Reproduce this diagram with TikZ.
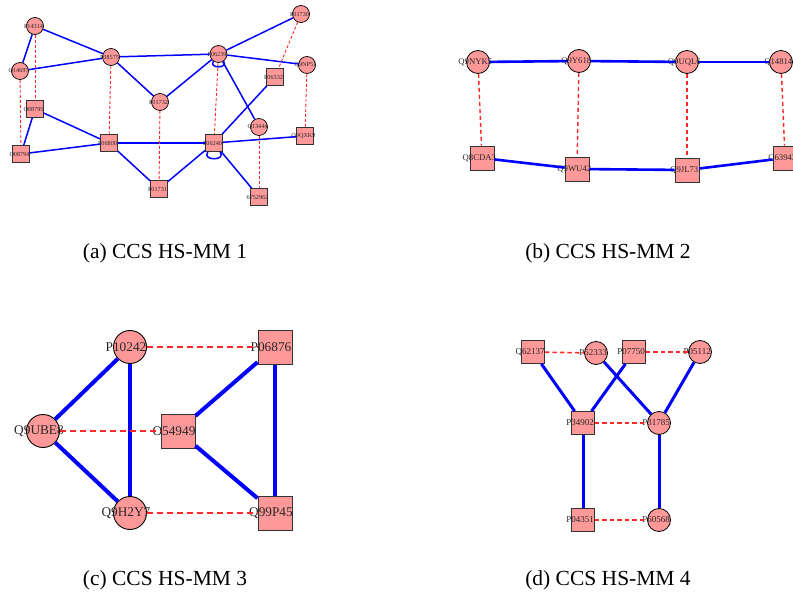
\documentclass[tikz,border=0pt]{standalone}
\usepackage{fontspec}
\setmainfont{Liberation Serif}
\begin{document}
\begin{tikzpicture}[x=1pt,y=-1pt]
\definecolor{nodefill}{RGB}{255,153,153}
\definecolor{edgered}{RGB}{255,40,40}
\useasboundingbox (0,0) rectangle (793,596);
\tikzset{
  lbl/.style={text=black!85, inner sep=0},
  % panel (a)
  acirc/.style={circle, draw=black, fill=nodefill, minimum size=17, inner sep=0, line width=0.7,
    label={[lbl, font=\fontsize{6.2}{7}\selectfont, xshift=-1.5]center:#1}},
  asq/.style={rectangle, draw=black!80, fill=nodefill, minimum size=17, inner sep=0, line width=0.8,
    label={[lbl, font=\fontsize{6.2}{7}\selectfont, xshift=-1.5]center:#1}},
  ablue/.style={draw=blue, line width=1.5},
  ared/.style={draw=edgered, line width=0.9, dash pattern=on 3 off 2},
  aloop/.style={out=-125, in=-55, looseness=2.3},
  % panel (b)
  bcirc/.style={circle, draw=black, fill=nodefill, minimum size=23, inner sep=0, line width=0.8,
    label={[lbl, font=\fontsize{8.7}{10}\selectfont, xshift=-2.7]center:#1}},
  bsq/.style={rectangle, draw=black!80, fill=nodefill, minimum size=24, inner sep=0, line width=0.9,
    label={[lbl, font=\fontsize{8.7}{10}\selectfont, xshift=-2.7]center:#1}},
  bblue/.style={draw=blue, line width=2.6},
  bred/.style={draw=edgered, line width=1.4, dash pattern=on 4 off 3},
  % panel (c)
  ccirc/.style={circle, draw=black, fill=nodefill, minimum size=33, inner sep=0, line width=0.9,
    label={[lbl, font=\fontsize{13.3}{15}\selectfont, xshift=-4]center:#1}},
  csq/.style={rectangle, draw=black!80, fill=nodefill, minimum size=34, inner sep=0, line width=1,
    label={[lbl, font=\fontsize{13.3}{15}\selectfont, xshift=-4]center:#1}},
  cblue/.style={draw=blue, line width=4},
  cred/.style={draw=edgered, line width=2.2, dash pattern=on 6 off 4},
  % panel (d)
  dcirc/.style={circle, draw=black, fill=nodefill, minimum size=23, inner sep=0, line width=0.8,
    label={[lbl, font=\fontsize{9}{10}\selectfont, xshift=-2.8]center:#1}},
  dsq/.style={rectangle, draw=black!80, fill=nodefill, minimum size=23, inner sep=0, line width=0.9,
    label={[lbl, font=\fontsize{9}{10}\selectfont, xshift=-2.8]center:#1}},
  dblue/.style={draw=blue, line width=3},
  dred/.style={draw=edgered, line width=1.6, dash pattern=on 4.5 off 3},
  caption/.style={font=\fontsize{21.5}{24}\selectfont, text=black, inner sep=0},
}

% ---------- (a) ----------
\node[acirc=P14314] (aP14314) at (35,26) {};
\node[acirc=Q14697] (aQ14697) at (20,71) {};
\node[acirc=P08575] (aP08575) at (111,57) {};
\node[acirc=P01732] (aP01732) at (160,102) {};
\node[acirc=P06239] (aP06239) at (218.5,54) {};
\node[acirc=P01730] (aP01730) at (301,14) {};
\node[acirc=Q9NP51] (aQ9NP51) at (307,65) {};
\node[acirc=Q13444] (aQ13444) at (259,127) {};
\node[asq=O08795] (aO08795) at (35,109) {};
\node[asq=O08794] (aO08794) at (21,154) {};
\node[asq=P06800] (aP06800) at (109,143) {};
\node[asq=P01731] (aP01731) at (159,189) {};
\node[asq=P06240] (aP06240) at (214,143) {};
\node[asq=P06332] (aP06332) at (275,77) {};
\node[asq=Q9QXK9] (aQ9QXK9) at (305,136) {};
\node[asq=6752962] (a6752962) at (259,197) {};

\draw[ablue] (aP14314) -- (aQ14697);
\draw[ablue] (aP14314) -- (aP08575);
\draw[ablue] (aQ14697) -- (aP08575);
\draw[ablue] (aP08575) -- (aP06239);
\draw[ablue] (aP08575) -- (aP01732);
\draw[ablue] (aP01732) -- (aP06239);
\draw[ablue] (aP06239) -- (aP01730);
\draw[ablue] (aP06239) -- (aQ9NP51);
\draw[ablue] (aP06239) -- (aQ13444);
\draw[ablue] (aP06239) to[aloop] (aP06239);
\draw[ablue] (aO08795) -- (aO08794);
\draw[ablue] (aO08795) -- (aP06800);
\draw[ablue] (aO08794) -- (aP06800);
\draw[ablue] (aP06800) -- (aP06240);
\draw[ablue] (aP06800) -- (aP01731);
\draw[ablue] (aP01731) -- (aP06240);
\draw[ablue] (aP06240) -- (aP06332);
\draw[ablue] (aP06240) -- (aQ9QXK9);
\draw[ablue] (aP06240) -- (a6752962);
\draw[ablue] (aP06240) to[aloop] (aP06240);

\draw[ared] (aP14314) -- (aO08795);
\draw[ared] (aQ14697) -- (aO08794);
\draw[ared] (aP08575) -- (aP06800);
\draw[ared] (aP01732) -- (aP01731);
\draw[ared] (aP06239) -- (aP06240);
\draw[ared] (aP01730) -- (aP06332);
\draw[ared] (aQ9NP51) -- (aQ9QXK9);
\draw[ared] (aQ13444) -- (a6752962);

% ---------- (b) ----------
\node[bcirc=Q9NYK5] (bQ9NYK5) at (478,62) {};
\node[bcirc=Q9Y618] (bQ9Y618) at (579,61) {};
\node[bcirc=Q9UQL6] (bQ9UQL6) at (687,62) {};
\node[bcirc=Q14814] (bQ14814) at (781,62) {};
\node[bsq=Q8CDA3] (bQ8CDA3) at (482,158) {};
\node[bsq=Q9WU42] (bQ9WU42) at (577,169) {};
\node[bsq=Q9JL73] (bQ9JL73) at (687,170) {};
\node[bsq=Q63943] (bQ63943) at (785,158) {};

\draw[bblue] (bQ9NYK5) -- (bQ9Y618);
\draw[bblue] (bQ9Y618) -- (bQ9UQL6);
\draw[bblue] (bQ9UQL6) -- (bQ14814);
\draw[bblue] (bQ8CDA3) -- (bQ9WU42);
\draw[bblue] (bQ9WU42) -- (bQ9JL73);
\draw[bblue] (bQ9JL73) -- (bQ63943);
\draw[bred] (bQ9NYK5) -- (bQ8CDA3);
\draw[bred] (bQ9Y618) -- (bQ9WU42);
\draw[bred] (bQ9UQL6) -- (bQ9JL73);
\draw[bred] (bQ14814) -- (bQ63943);

% ---------- (c) ----------
\node[ccirc=P10242] (cP10242) at (130,347) {};
\node[ccirc=Q9UBE8] (cQ9UBE8) at (43,431) {};
\node[ccirc=Q9H2Y7] (cQ9H2Y7) at (130,513) {};
\node[csq=P06876] (cP06876) at (275,347) {};
\node[csq=O54949] (cO54949) at (178,431) {};
\node[csq=Q99P45] (cQ99P45) at (275,513) {};

\draw[cblue] (cP10242) -- (cQ9UBE8);
\draw[cblue] (cP10242) -- (cQ9H2Y7);
\draw[cblue] (cQ9UBE8) -- (cQ9H2Y7);
\draw[cblue] (cP06876) -- (cO54949);
\draw[cblue] (cP06876) -- (cQ99P45);
\draw[cblue] (cO54949) -- (cQ99P45);
\draw[cred] (cP10242) -- (cP06876);
\draw[cred] (cQ9UBE8) -- (cO54949);
\draw[cred] (cQ9H2Y7) -- (cQ99P45);

% ---------- (d) ----------
\node[dsq=Q62137] (dQ62137) at (533,352) {};
\node[dcirc=P52333] (dP52333) at (596,353) {};
\node[dsq=P07750] (dP07750) at (634,352) {};
\node[dcirc=P05112] (dP05112) at (700,352) {};
\node[dsq=P34902] (dP34902) at (583,423) {};
\node[dcirc=P31785] (dP31785) at (659,423) {};
\node[dsq=P04351] (dP04351) at (583,520) {};
\node[dcirc=P60568] (dP60568) at (659,520) {};

\draw[dblue] (dQ62137) -- (dP34902);
\draw[dblue] (dP07750) -- (dP34902);
\draw[dblue] (dP52333) -- (dP31785);
\draw[dblue] (dP05112) -- (dP31785);
\draw[dblue] (dP34902) -- (dP04351);
\draw[dblue] (dP31785) -- (dP60568);
\draw[dred] (dQ62137) -- (dP52333);
\draw[dred] (dP07750) -- (dP05112);
\draw[dred] (dP34902) -- (dP31785);
\draw[dred] (dP04351) -- (dP60568);

% ---------- captions ----------
\node[caption] (capa) at (165,253) {(a) CCS HS-MM 1};
\node[caption] (capb) at (608,253) {(b) CCS HS-MM 2};
\node[caption] (capc) at (165,580) {(c) CCS HS-MM 3};
\node[caption] (capd) at (608,580) {(d) CCS HS-MM 4};
\end{tikzpicture}
\end{document}
